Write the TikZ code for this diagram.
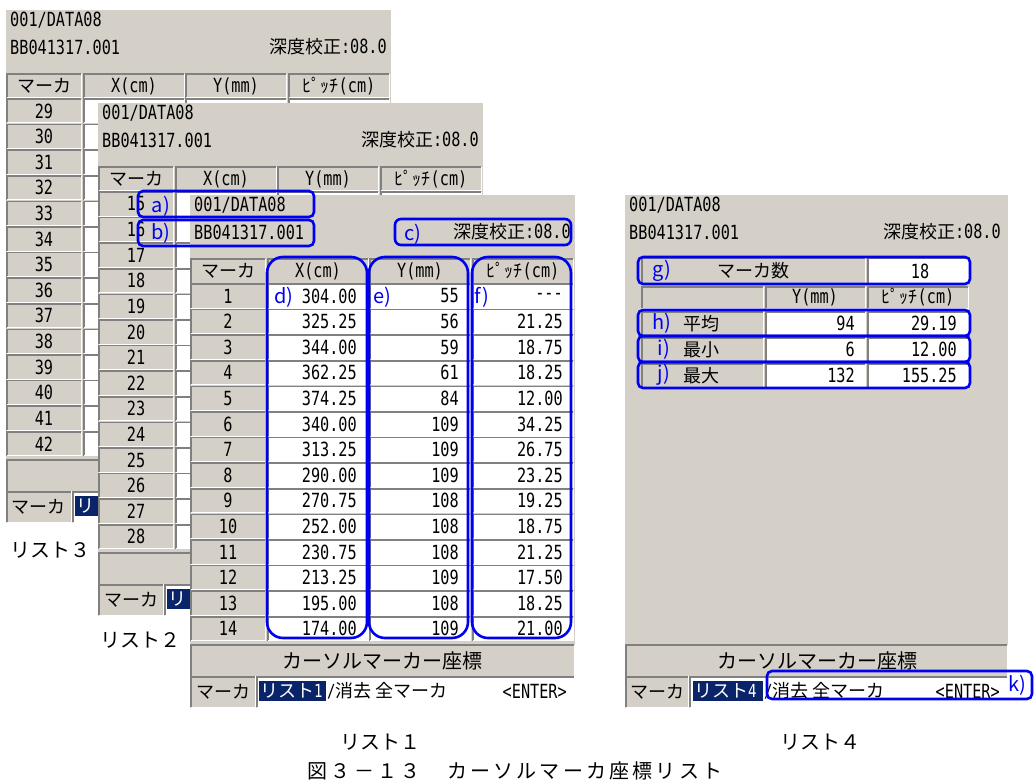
\documentclass[tikz,border=0pt]{standalone}
\usepackage{fontspec}
\newfontfamily\jpf{Noto Sans CJK JP}
\newfontfamily\monof[FakeStretch=0.78]{DejaVu Sans Mono}
\definecolor{panelgray}{HTML}{D4D0C8}
\definecolor{annblue}{HTML}{0000F0}
\definecolor{navy}{HTML}{0A246A}
\definecolor{edgedk}{HTML}{808080}
\definecolor{edgelt}{HTML}{FFFFFF}
\tikzset{
 mono/.style={font=\monof\fontsize{19.5}{21}\selectfont, inner sep=0pt},
 jp/.style={font=\jpf\fontsize{18}{20}\selectfont, inner sep=0pt},
 jpbig/.style={font=\jpf\fontsize{20}{22}\selectfont, inner sep=0pt},
 lbl/.style={font=\jpf\fontsize{20}{22}\selectfont, text=annblue, inner sep=0pt},
 ann/.style={draw=annblue, line width=2.6pt, rounded corners=#1},
 ann/.default=5pt,
 captext/.style={font=\jpf\fontsize{20}{22}\selectfont, inner sep=0pt},
 capwide/.style={font=\jpf\fontsize{20}{22}\selectfont\addfontfeatures{LetterSpace=16}, inner sep=0pt},
 edk/.style={draw=edgedk, line width=1.5pt},
 elt/.style={draw=edgelt, line width=1pt},
}
\newcommand\cellbox[5]{%
 \fill[#5] (#1,#2) rectangle (#3,#4);
 \draw[edk] (#1,#4) -- (#1,#2) -- (#3,#2);
 \draw[elt] (#1,#4) -- (#3,#4) -- (#3,#2);}
% x0, y0, tag, first marker number, text shown in the selection
\newcommand\listpanel[5]{%
\begin{scope}[shift={(#1,#2)}]
 \fill[panelgray] (0,0) rectangle (385,513);
 \node[mono,anchor=west] (#3-l1) at (4,10) {001/DATA08};
 \node[mono,anchor=west] (#3-l2) at (4,37) {BB041317.001};
 \node[mono,anchor=east] (#3-dc) at (381,37) {{\jpf\fontsize{18}{20}\selectfont 深度校正}:08.0};
 \cellbox{1}{64}{75}{88}{panelgray}
 \cellbox{78}{64}{178}{88}{panelgray}
 \cellbox{180}{64}{280}{88}{panelgray}
 \cellbox{283}{64}{383}{88}{panelgray}
 \node[jp] (#3-h1) at (38,76) {マーカ};
 \node[mono] (#3-h2) at (128,76) {X(cm)};
 \node[mono] (#3-h3) at (230,76) {Y(mm)};
 \node[mono] (#3-h4) at (333,76) {{\jpf\fontsize{18}{20}\selectfont ﾋﾟｯﾁ}(cm)};
 \foreach \i in {0,...,13}{
   \pgfmathsetmacro\ty{89+25.6*\i}
   \pgfmathsetmacro\by{\ty+24}
   \pgfmathsetmacro\cy{\ty+12}
   \pgfmathtruncatemacro\n{#4+\i}
   \cellbox{1}{\ty}{75}{\by}{panelgray}
   \cellbox{78}{\ty}{178}{\by}{white}
   \cellbox{180}{\ty}{280}{\by}{white}
   \cellbox{283}{\ty}{383}{\by}{white}
   \node[mono] (#3-n\n) at (38,\cy) {\n};
 }
 \cellbox{1}{450}{384}{481}{panelgray}
 \cellbox{1}{482}{65}{512}{panelgray}
 \cellbox{67}{482}{384}{512}{white}
 \node[jp] (#3-mk) at (33,497) {マーカ};
 \fill[navy] (69,486) rectangle (136,506);
 \node[jp,text=white,anchor=west] (#3-sel) at (70,496) {#5};
\end{scope}}
\begin{document}
\begin{tikzpicture}[x=1pt,y=-1pt]
\useasboundingbox (0,0) rectangle (1034,781);
\fill[white] (0,0) rectangle (1034,781);
% list 3 (back)
\listpanel{6}{10}{p3}{29}{リ}
% list 2 (middle)
\listpanel{98}{103}{p2}{15}{リ}
% list 1 (front)
\listpanel{190}{195}{p1}{1}{リスト{\monof 1}}
\begin{scope}[shift={(190,195)}]
 \foreach \xv/\yv/\pv [count=\k from 0] in {304.00/55/‐‐‐, 325.25/56/21.25, 344.00/59/18.75, 362.25/61/18.25, 374.25/84/12.00, 340.00/109/34.25, 313.25/109/26.75, 290.00/109/23.25, 270.75/108/19.25, 252.00/108/18.75, 230.75/108/21.25, 213.25/109/17.50, 195.00/108/18.25, 174.00/109/21.00}{
   \pgfmathsetmacro\cy{101+25.6*\k}
   \node[mono,anchor=east] (p1-x\k) at (167,\cy) {\xv};
   \node[mono,anchor=east] (p1-y\k) at (269,\cy) {\yv};
   \node[mono,anchor=east] (p1-p\k) at (373,\cy) {\pv};
 }
 \node[jpbig] (p1-status) at (192,466) {カーソルマーカー座標};
 \node[jp,anchor=west] (p1-cmd) at (137,496) {{\monof/}消去 全マーカ};
 \node[mono,anchor=east] (p1-ent) at (377,496) {<ENTER>};
\end{scope}
% list 4 (right)
\begin{scope}[shift={(625,195)}]
 \fill[panelgray] (0,0) rectangle (383,513);
 \node[mono,anchor=west] (p4-l1) at (4,10) {001/DATA08};
 \node[mono,anchor=west] (p4-l2) at (4,37) {BB041317.001};
 \node[mono,anchor=east] (p4-dc) at (376,37) {{\jpf\fontsize{18}{20}\selectfont 深度校正}:08.0};
 \cellbox{17}{63}{240}{88}{panelgray}
 \cellbox{243}{63}{343}{88}{white}
 \node[jp] (p4-cnt) at (128,76) {マーカ数};
 \node[mono] (p4-cntv) at (295,76) {18};
 \cellbox{17}{92}{138}{113}{panelgray}
 \cellbox{141}{92}{240}{113}{panelgray}
 \cellbox{243}{92}{343}{113}{panelgray}
 \node[mono] (p4-hy) at (190,102) {Y(mm)};
 \node[mono] (p4-hp) at (293,102) {{\jpf\fontsize{18}{20}\selectfont ﾋﾟｯﾁ}(cm)};
 \foreach \lab/\yv/\pv/\ty [count=\k] in {平均/94/29.19/117, 最小/6/12.00/143, 最大/132/155.25/169}{
   \pgfmathsetmacro\by{\ty+23}
   \pgfmathsetmacro\cy{\ty+11.5}
   \cellbox{17}{\ty}{138}{\by}{panelgray}
   \cellbox{141}{\ty}{240}{\by}{white}
   \cellbox{243}{\ty}{343}{\by}{white}
   \node[jp,anchor=west] (p4-s\k) at (58,\cy) {\lab};
   \node[mono,anchor=east] (p4-y\k) at (230,\cy) {\yv};
   \node[mono,anchor=east] (p4-p\k) at (332,\cy) {\pv};
 }
 \cellbox{1}{450}{382}{481}{panelgray}
 \node[jpbig] (p4-status) at (192,466) {カーソルマーカー座標};
 \cellbox{1}{482}{63}{512}{panelgray}
 \cellbox{65}{482}{382}{512}{white}
 \node[jp] (p4-mk) at (32,497) {マーカ};
 \fill[navy] (68,486) rectangle (138,506);
 \node[jp,text=white,anchor=west] (p4-sel) at (69,496) {リスト{\monof 4}};
 \node[jp,anchor=west] (p4-cmd) at (139,496) {{\monof/}消去 全マーカ};
 \node[mono,anchor=east] (p4-ent) at (375,496) {<ENTER>};
 % annotations g-j
 \draw[ann] (13,62) rectangle (345,89);
 \draw[ann] (13,115) rectangle (345,141);
 \draw[ann] (13,141) rectangle (345,167);
 \draw[ann] (13,167) rectangle (345,193);
 \node[lbl] (lg) at (37,76) {g)};
 \node[lbl] (lh) at (37,128) {h)};
 \node[lbl] (li) at (39,154) {i)};
 \node[lbl] (lj) at (39,180) {j)};
\end{scope}
% annotations on list 1
\draw[ann] (138,191) rectangle (314,217);
\draw[ann] (138,220) rectangle (314,246);
\draw[ann=6pt] (395,219) rectangle (571,245);
\draw[ann=16pt] (267,257) rectangle (367,638);
\draw[ann=16pt] (369,257) rectangle (468,638);
\draw[ann=16pt] (472,257) rectangle (571,638);
\node[lbl] (la) at (161,206) {a)};
\node[lbl] (lb) at (161,233) {b)};
\node[lbl] (lc) at (413,234) {c)};
\node[lbl] (ld) at (284,297) {d)};
\node[lbl] (le) at (382,297) {e)};
\node[lbl] (lf) at (482,297) {f)};
% annotation k
\draw[ann] (767,671) rectangle (1032,699);
\node[lbl] (lk) at (1017,685) {k)};
% captions
\node[captext] (c3) at (50,550) {リスト３};
\node[captext] (c2) at (140,640) {リスト２};
\node[captext] (c1) at (380,742) {リスト１};
\node[captext] (c4) at (820,742) {リスト４};
\node[capwide] (cmain) at (515,771) {図３－１３　カーソルマーカ座標リスト};
\end{tikzpicture}
\end{document}
